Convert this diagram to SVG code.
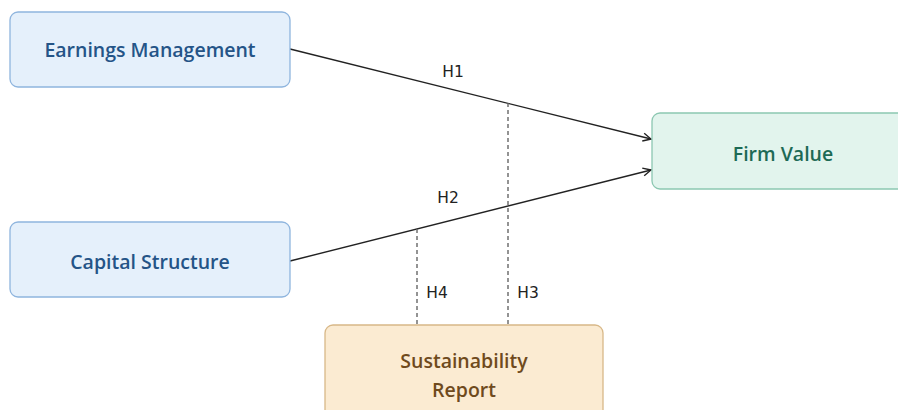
<svg xmlns="http://www.w3.org/2000/svg" width="898" height="410" viewBox="0 0 898 410">
<defs>
<style>
.nb{fill:#e5f0fb;stroke:#8fb5de;stroke-width:1.3}
.ng{fill:#e2f4ed;stroke:#8cc7b1;stroke-width:1.3}
.no{fill:#fbebd2;stroke:#d8b888;stroke-width:1.3}
.t{font-family:"Open Sans","Liberation Sans",sans-serif;font-weight:600;font-size:19.5px;text-anchor:middle}
.tb{fill:#245487}
.tg{fill:#1d6a55}
.to{fill:#6f4a1c}
.l{font-family:"DejaVu Sans","Liberation Sans",sans-serif;font-size:15.5px;fill:#222;text-anchor:middle}
.e{stroke:#222;stroke-width:1.4;fill:none}
.d{stroke:#666;stroke-width:1.4;fill:none;stroke-dasharray:4 3}
</style>
<marker id="ar" viewBox="0 0 10 10" refX="9" refY="5" markerWidth="10" markerHeight="10" markerUnits="userSpaceOnUse" orient="auto">
<path d="M1,1 L9,5 L1,9" fill="none" stroke="#222" stroke-width="1.4"/>
</marker>
</defs>
<rect width="898" height="410" fill="#fff"/>
<g id="connectors">
<line class="e" x1="290" y1="49" x2="651" y2="139" marker-end="url(#ar)"/>
<line class="e" x1="290" y1="261" x2="651" y2="170" marker-end="url(#ar)"/>
<line class="d" x1="508" y1="103" x2="508" y2="325"/>
<line class="d" x1="417" y1="229" x2="417" y2="325"/>
<text class="l" x="453" y="77">H1</text>
<text class="l" x="448" y="203">H2</text>
<text class="l" x="437" y="298">H4</text>
<text class="l" x="528" y="298">H3</text>
</g>
<g id="earnings-management">
<rect class="nb" x="10" y="12" width="280" height="75" rx="8"/>
<text class="t tb" x="150" y="57">Earnings Management</text>
</g>
<g id="capital-structure">
<rect class="nb" x="10" y="222" width="280" height="75" rx="8"/>
<text class="t tb" x="150" y="269">Capital Structure</text>
</g>
<g id="firm-value">
<rect class="ng" x="652" y="113" width="260" height="76" rx="8"/>
<text class="t tg" x="783" y="161">Firm Value</text>
</g>
<g id="sustainability-report">
<rect class="no" x="325" y="325" width="278" height="100" rx="8"/>
<text class="t to" x="464" y="368">Sustainability</text>
<text class="t to" x="464" y="397">Report</text>
</g>
</svg>
